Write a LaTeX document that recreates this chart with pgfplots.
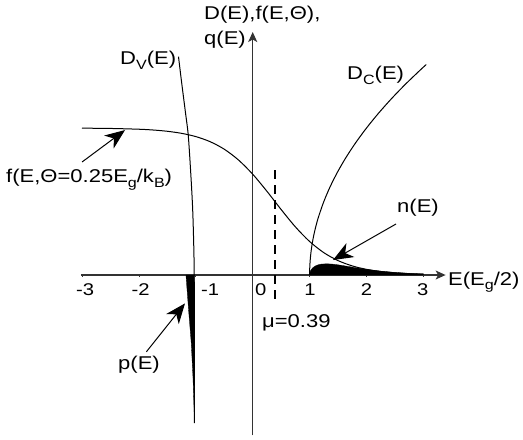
\documentclass[border=0pt]{standalone}
\usepackage{fontspec}
\setmainfont[FakeStretch=1.19]{Liberation Sans}
\usepackage{pgfplots}
\pgfplotsset{compat=1.18}
\usetikzlibrary{arrows.meta}
\newcommand\lbl{\fontsize{18.5bp}{20bp}\selectfont}
\newcommand\tkl{\fontsize{17bp}{19bp}\selectfont}
\newcommand\sub[1]{\raisebox{-4.5bp}{\fontsize{13.5bp}{14bp}\selectfont #1}}
\begin{document}
\begin{tikzpicture}[font=\lbl]
\begin{axis}[
  x=56.9bp, y=147bp,
  axis lines=middle,
  xmin=-3.02, xmax=3.39, ymin=-1.09, ymax=1.653,
  xtick={-3,-2,-1,0,1,2,3}, xticklabels={},
  ytick=\empty,
  clip=false,
  axis line style={black!80, line width=1.3bp, -{Stealth[length=10bp,width=9bp,inset=2.5bp]}},
  major tick length=3bp,
  every tick/.style={black!80, line width=0.8bp},
]
% Fermi function
\addplot[black, line width=1bp, smooth] coordinates {
(-3,0.99887) (-2.5,0.99692) (-2,0.99167) (-1.75,0.98635) (-1.5,0.97769)
(-1.25,0.96374) (-1,0.94158) (-0.75,0.90721) (-0.5,0.85570) (-0.25,0.78245)
(0,0.68568) (0.25,0.56954) (0.5,0.44522) (0.75,0.32740) (1,0.22793)
(1.25,0.15187) (1.5,0.09797) (1.75,0.06180) (2,0.03842) (2.25,0.02366)
(2.5,0.01449) (2.75,0.00884) (3,0.00538)};
% D_C
\addplot[black, line width=1bp, smooth] coordinates {
(1,0) (1.0025,0.05) (1.01,0.1) (1.0225,0.15) (1.04,0.2) (1.0625,0.25) (1.09,0.3)
(1.1225,0.35) (1.16,0.4) (1.25,0.5) (1.36,0.6) (1.49,0.7) (1.64,0.8) (1.81,0.9)
(2,1) (2.21,1.1) (2.44,1.2) (2.69,1.3) (2.96,1.4) (3.05,1.4318)};
% D_V
\addplot[black, line width=1bp, smooth] coordinates {
(-1.304,1.485) (-1.262,1.350) (-1.221,1.224) (-1.176,1.088) (-1.133,0.952)
(-1.092,0.714) (-1.057,0.465) (-1.038,0.230) (-1.028,0) (-1.025,-0.5) (-1.024,-1.007)};
% n(E)
\addplot[fill=black, draw=black, line width=0.3bp] coordinates {
(1,0) (1.01,0.02244) (1.02,0.03125) (1.05,0.04715) (1.1,0.06155) (1.15,0.06951)
(1.2,0.07388) (1.3,0.07636) (1.4,0.07407) (1.5,0.06928) (1.6,0.06325) (1.8,0.05031)
(2,0.03842) (2.25,0.02645) (2.5,0.01775) (2.75,0.01169) (3,0.00761) (3,0) (1,0)} --cycle;
% p(E)
\addplot[fill=black, draw=black, line width=0.3bp] coordinates {
(-1.173,0) (-1.127,-0.238) (-1.080,-0.463) (-1.050,-0.694) (-1.026,-0.966)
(-1.024,-0.966) (-1.027,0) (-1.173,0)} --cycle;
% mu
\addplot[black, line width=2bp, dash pattern=on 9bp off 6bp] coordinates {(0.39,0.714) (0.39,-0.184)};
% tick labels
\node[font=\tkl, anchor=base] at (axis cs:-2.947,-0.136) {-3};
\node[font=\tkl, anchor=base] at (axis cs:-1.968,-0.136) {-2};
\node[font=\tkl, anchor=base] at (axis cs:-0.750,-0.136) {-1};
\node[font=\tkl, anchor=base] at (axis cs:0.141,-0.136) {0};
\node[font=\tkl, anchor=base] at (axis cs:1.007,-0.136) {1};
\node[font=\tkl, anchor=base] at (axis cs:2.0,-0.136) {2};
\node[font=\tkl, anchor=base] at (axis cs:2.988,-0.136) {3};
% labels
\node[anchor=base west, inner sep=0pt] at (axis cs:-0.856,1.738) {D(E),f(E,Θ),};
\node[anchor=base west, inner sep=0pt] at (axis cs:-0.856,1.565) {q(E)};
\node[anchor=base west, inner sep=0pt] at (axis cs:-2.332,1.429) {D\sub{V}(E)};
\node[anchor=base west, inner sep=0pt] at (axis cs:-4.336,0.626) {f(E,Θ=0.25E\sub{g}/k\sub{B})};
\node[anchor=base west, inner sep=0pt] at (axis cs:1.657,1.327) {D\sub{C}(E)};
\node[anchor=base west, inner sep=0pt] at (axis cs:2.536,0.422) {n(E)};
\node[anchor=base west, inner sep=0pt] at (axis cs:3.432,-0.068) {E(E\sub{g}/2)};
\node[anchor=base west, inner sep=0pt] at (axis cs:0.163,-0.354) {μ=0.39};
\node[anchor=base west, inner sep=0pt] at (axis cs:-2.367,-0.646) {p(E)};
% annotation arrows
\draw[black, line width=1bp, -{Stealth[length=20bp,width=16bp,inset=6bp]}] (axis cs:-2.998,0.769) -- (axis cs:-2.244,0.986);
\draw[black, line width=1bp, -{Stealth[length=20bp,width=16bp,inset=6bp]}] (axis cs:2.519,0.347) -- (axis cs:1.411,0.102);
\draw[black, line width=1bp, -{Stealth[length=20bp,width=16bp,inset=6bp]}] (axis cs:-1.868,-0.522) -- (axis cs:-1.190,-0.193);
\coordinate (BL) at (axis cs:-4.441,-1.1156);
\coordinate (TR) at (axis cs:4.750,1.8707);
\end{axis}
\pgfresetboundingbox
\path (BL) rectangle (TR);
\end{tikzpicture}
\end{document}
